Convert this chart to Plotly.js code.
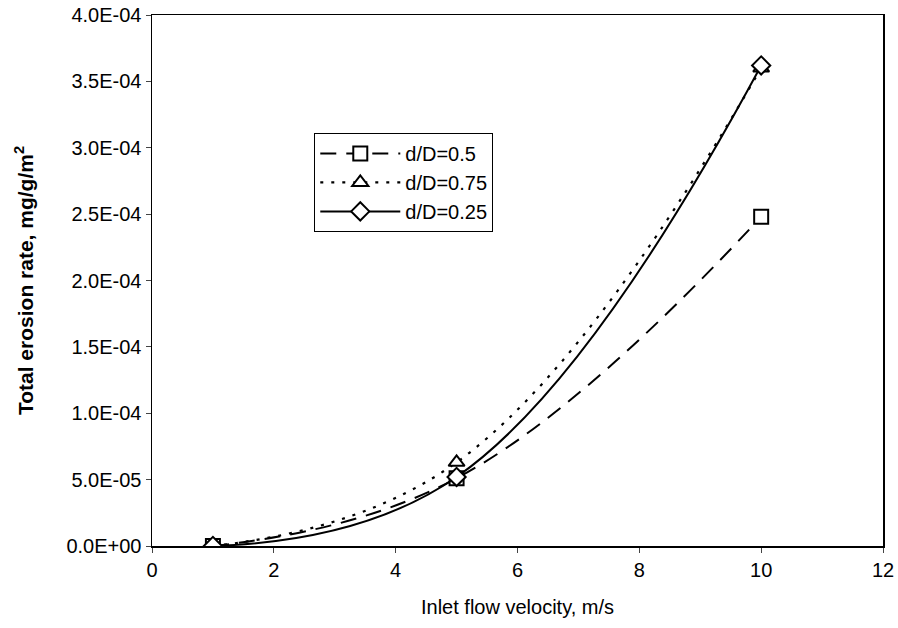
<!DOCTYPE html>
<html>
<head>
<meta charset="utf-8">
<script src="https://cdn.plot.ly/plotly-3.0.1.min.js"></script>
<style>html,body{margin:0;padding:0;background:#fff;}#chart{width:898px;height:628px;}</style>
</head>
<body>
<div id="chart"></div>
<script>
const velocity = [1, 5, 10];
const rate_d05 = [0, 5.1e-5, 2.48e-4];
const rate_d075 = [0, 6.3e-5, 3.6e-4];
const rate_d025 = [0, 5.2e-5, 3.62e-4];
const seriesNames = ["d/D=0.5", "d/D=0.75", "d/D=0.25"];
const yTickVals = [0, 5e-5, 1e-4, 1.5e-4, 2e-4, 2.5e-4, 3e-4, 3.5e-4, 4e-4];
const yTickText = ["0.0E+00", "5.0E-05", "1.0E-04", "1.5E-04", "2.0E-04", "2.5E-04", "3.0E-04", "3.5E-04", "4.0E-04"];
const xTickVals = [0, 2, 4, 6, 8, 10, 12];

const font = "Liberation Sans, Arial, sans-serif";
const mk = (sym) => ({symbol: sym, size: 14, color: "#fff", line: {color: "#000", width: 2}});

const traces = [
  {x: velocity, y: rate_d05, name: seriesNames[0], mode: "lines+markers",
   line: {color: "#000", width: 2, dash: "16px,10px", shape: "spline", smoothing: 1.2},
   marker: mk("square")},
  {x: velocity, y: rate_d075, name: seriesNames[1], mode: "lines+markers",
   line: {color: "#000", width: 2.2, dash: "3px,8px", shape: "spline", smoothing: 1.2},
   marker: mk("triangle-up")},
  {x: velocity, y: rate_d025, name: seriesNames[2], mode: "lines+markers",
   line: {color: "#000", width: 2, shape: "spline", smoothing: 1.2},
   marker: mk("diamond")}
];

const layout = {
  width: 898, height: 628,
  margin: {l: 152, r: 15, t: 15, b: 82},
  paper_bgcolor: "#fff", plot_bgcolor: "#fff",
  font: {family: font, color: "#000", size: 20},
  showlegend: true,
  legend: {x: 0.222, y: 0.778, xanchor: "left", yanchor: "top",
           bgcolor: "#fff", bordercolor: "#000", borderwidth: 1, itemwidth: 80,
           font: {family: font, size: 20, color: "#000"}, tracegroupgap: 0},
  xaxis: {range: [0, 12], tickvals: xTickVals, ticks: "outside", ticklen: 5,
          showline: true, linecolor: "#000", linewidth: 1.5, mirror: true,
          showgrid: false, zeroline: false, tickfont: {size: 20},
          title: {text: "Inlet flow velocity, m/s", font: {size: 20}, standoff: 20}},
  yaxis: {range: [0, 4e-4], tickvals: yTickVals, ticktext: yTickText, ticks: "outside", ticklen: 5,
          showline: true, linecolor: "#000", linewidth: 1.5, mirror: true,
          showgrid: false, zeroline: false, tickfont: {size: 20},
          title: {text: "<b>Total erosion rate, mg/g/m<sup>2</sup></b>", font: {size: 21}, standoff: 27}}
};

Plotly.newPlot("chart", traces, layout, {staticPlot: true, displayModeBar: false});
</script>
</body>
</html>
